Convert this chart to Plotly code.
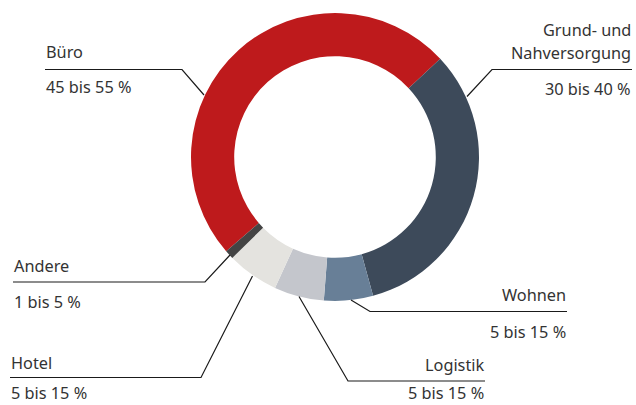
import plotly.graph_objects as go

# Data
categories = ["Büro", "Grund- und Nahversorgung", "Wohnen", "Logistik", "Hotel", "Andere"]
shares = [49.4, 32.7, 5.5, 5.6, 5.8, 1.0]
range_labels = ["45 bis 55 %", "30 bis 40 %", "5 bis 15 %", "5 bis 15 %", "5 bis 15 %", "1 bis 5 %"]
colors = ["#BE1A1C", "#3D4A5A", "#687F97", "#C4C6CC", "#E4E3DF", "#444444"]

W, H = 636, 405
cx, cy, R = 335, 157, 144

fig = go.Figure(go.Pie(
    labels=categories,
    values=shares,
    sort=False,
    direction="clockwise",
    rotation=229.1,
    hole=0.70,
    marker=dict(colors=colors, line=dict(width=0)),
    textinfo="none",
    hoverinfo="label+percent",
    showlegend=False,
    domain=dict(x=[(cx - R) / W, (cx + R) / W], y=[(H - cy - R) / H, (H - cy + R) / H]),
))

def px(x):
    return x / W

def py(y):
    return 1 - y / H

FONT = dict(family="Noto Sans, Open Sans, sans-serif", size=16.3, color="#333333")

# label layout: (name lines, anchor x, align, name y, range y, leader points)
label_layout = [
    (["Büro"], 45, "left", [52], 87, [(45, 69.5), (182, 69.5), (204, 95)]),
    (["Grund- und", "Nahversorgung"], 632, "right", [30, 53], 89, [(632, 69.5), (492, 69.5), (467, 96.5)]),
    (["Wohnen"], 567, "right", [295], 331.5, [(567, 311.5), (370, 311.5), (351, 300)]),
    (["Logistik"], 485, "right", [365], 393, [(485, 381), (348, 381), (299, 296.5)]),
    (["Hotel"], 10, "left", [363], 393, [(10, 377.5), (201, 377.5), (252.5, 276)]),
    (["Andere"], 13, "left", [266], 301.5, [(13, 282), (205, 282), (230, 255)]),
]

annotations = []
shapes = []
for i, (lines, ax, align, ys, ry, pts) in enumerate(label_layout):
    xanchor = "left" if align == "left" else "right"
    for txt, ty in zip(lines, ys):
        annotations.append(dict(text=txt, x=px(ax), y=py(ty), xref="paper", yref="paper",
                                xanchor=xanchor, yanchor="middle", showarrow=False,
                                borderpad=0, font=FONT))
    annotations.append(dict(text=range_labels[i], x=px(ax), y=py(ry), xref="paper", yref="paper",
                            xanchor=xanchor, yanchor="middle", showarrow=False,
                            borderpad=0, font=FONT))
    path = "M " + " L ".join(f"{px(x)},{py(y)}" for x, y in pts)
    shapes.append(dict(type="path", path=path, xref="paper", yref="paper",
                       line=dict(color="#1a1a1a", width=1.2)))

fig.update_layout(
    width=W, height=H,
    margin=dict(l=0, r=0, t=0, b=0),
    paper_bgcolor="white",
    plot_bgcolor="white",
    annotations=annotations,
    shapes=shapes,
)

fig.write_html("out.html", config={"displayModeBar": False},
               post_script="document.body.style.margin='0';document.body.style.padding='0';")
